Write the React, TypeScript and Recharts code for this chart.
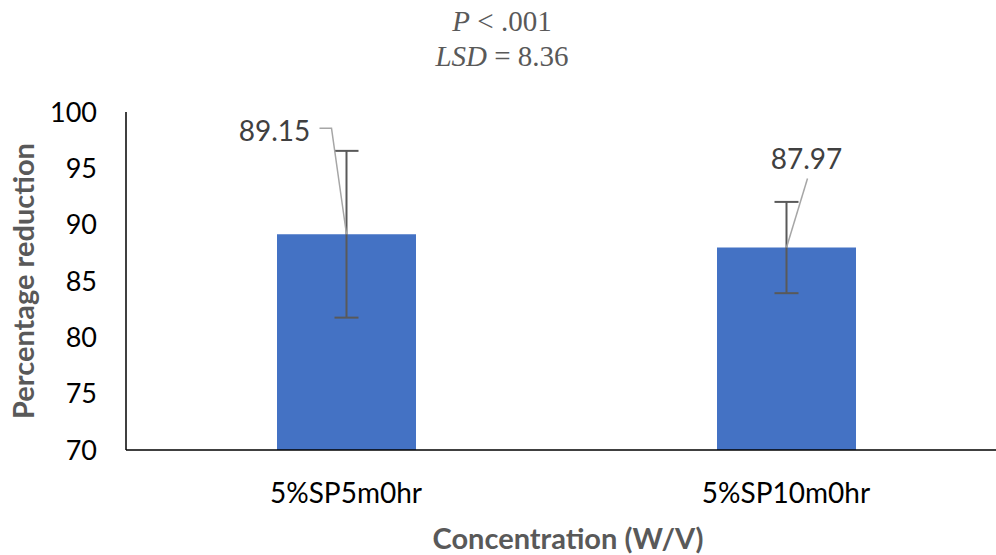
import React from "react";
import {
  Bar,
  BarChart,
  ErrorBar,
  LabelList,
  XAxis,
  YAxis,
} from "recharts";

// values
const categories = ["5%SP5m0hr", "5%SP10m0hr"];
const means = [89.15, 87.97];
const errors = [7.4, 4.05];
const yTicks = [70, 75, 80, 85, 90, 95, 100];

// where each value label sits relative to its bar top (leader line in px)
const labelOffsets = [
  { dx: -72, dy: -104, leader: [[-27, -106], [-15, -106], [0, 0]] },
  { dx: 20, dy: -90, leader: [[21, -69], [0, 0]] },
];

const data = categories.map((name, i) => ({
  name,
  value: means[i],
  err: errors[i],
}));

const FONT = "Lato, 'Open Sans', sans-serif";

function ValueLabel(props: any) {
  const { x, y, width, value, index } = props;
  const off = labelOffsets[index];
  if (!off) return null;
  const cx = x + width / 2;
  const pts = off.leader.map(([px, py]) => `${cx + px},${y + py}`).join(" ");
  return (
    <g>
      <polyline points={pts} fill="none" stroke="#a6a6a6" strokeWidth={1.5} />
      <text
        x={cx + off.dx}
        y={y + off.dy}
        textAnchor="middle"
        dominantBaseline="central"
        fill="#404040"
        fontSize={28}
        fontFamily={FONT}
      >
        {Number(value).toFixed(2)}
      </text>
    </g>
  );
}

export default function App() {
  return (
    <div
      style={{
        position: "absolute",
        left: 0,
        top: 0,
        width: 996,
        height: 555,
        overflow: "hidden",
        background: "#fff",
        fontFamily: FONT,
      }}
    >
      <div
        style={{
          position: "absolute",
          left: 0,
          width: 996,
          top: 4,
          textAlign: "center",
          fontFamily: "'Liberation Serif', 'Times New Roman', serif",
          fontSize: 29,
          lineHeight: "35px",
          color: "#595959",
          paddingLeft: 4,
        }}
      >
        <div>
          <i>P</i> &lt; .001
        </div>
        <div>
          <i>LSD</i> = 8.36
        </div>
      </div>

      <BarChart
        width={1006}
        height={555}
        data={data}
        margin={{ top: 112, right: 0, bottom: 0, left: 0 }}
      >
        <XAxis
          dataKey="name"
          height={105}
          axisLine={{ stroke: "#000", strokeWidth: 1.5 }}
          tickLine={false}
          tickSize={0}
          tickMargin={33}
          tick={{ fill: "#000", fontSize: 28, fontFamily: FONT }}
        />
        <YAxis
          width={126}
          domain={[70, 100]}
          ticks={yTicks}
          interval={0}
          axisLine={{ stroke: "#000", strokeWidth: 1.5 }}
          tickLine={false}
          tickSize={0}
          tickMargin={29}
          tick={{ fill: "#000", fontSize: 27, fontFamily: FONT }}
        />
        <Bar
          dataKey="value"
          fill="#4472C4"
          barSize={139}
          isAnimationActive={false}
        >
          <ErrorBar
            dataKey="err"
            direction="y"
            width={12}
            stroke="#595959"
            strokeWidth={2}
          />
          <LabelList dataKey="value" content={<ValueLabel />} />
        </Bar>
      </BarChart>

      <div
        style={{
          position: "absolute",
          left: 22,
          top: 281,
          transform: "translate(-50%, -50%) rotate(-90deg)",
          whiteSpace: "nowrap",
          fontWeight: 700,
          fontSize: 29,
          color: "#595959",
        }}
      >
        Percentage reduction
      </div>
      <div
        style={{
          position: "absolute",
          left: 568,
          top: 537,
          transform: "translate(-50%, -50%)",
          whiteSpace: "nowrap",
          fontWeight: 700,
          fontSize: 29,
          color: "#595959",
        }}
      >
        Concentration (W/V)
      </div>
    </div>
  );
}
